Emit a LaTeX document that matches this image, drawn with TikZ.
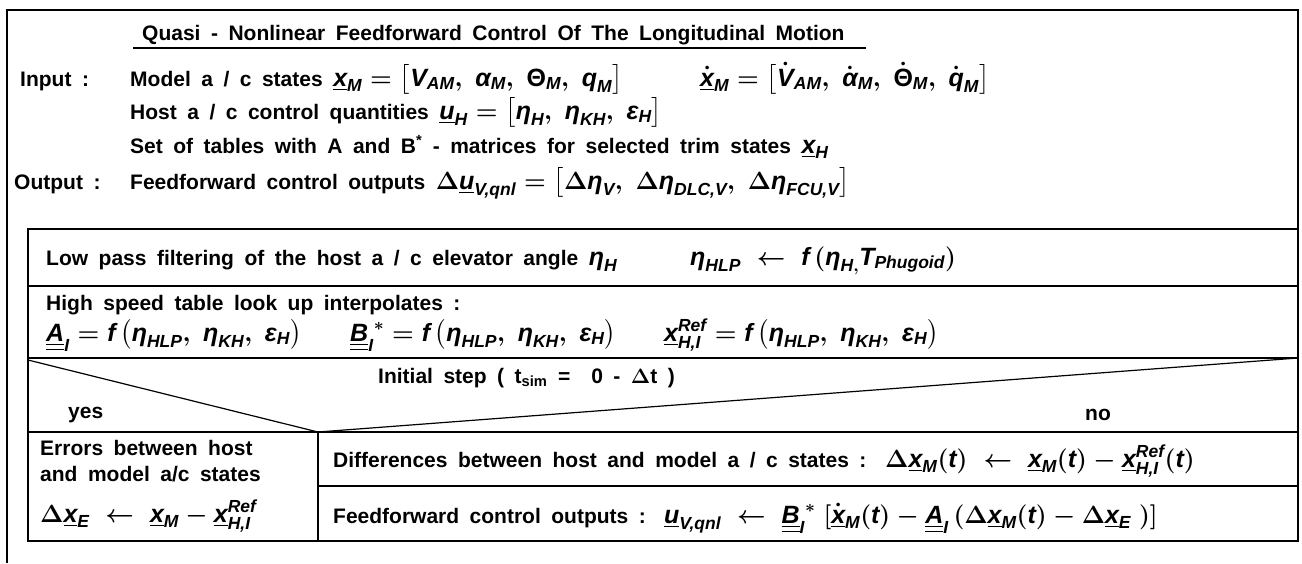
\documentclass[tikz,border=0pt]{standalone}
\usepackage{amsmath}
\usepackage{fontspec}
\setmainfont{Liberation Sans}
\usepackage{tikz}
\usetikzlibrary{positioning}

\newcommand{\vr}[1]{\text{\itshape #1}}
\newcommand{\vc}[1]{\underline{\vr{#1}}}
\newcommand{\mx}[1]{\underline{\underline{\vr{#1}}}}
\newcommand{\mth}[1]{{\fontsize{25}{29}\selectfont$#1$}}
\newcommand{\cm}{,\;}
\newcommand{\wsp}{\spaceskip=.5em plus .1em\relax}

\tikzset{
  txt/.style={anchor=base west,inner sep=0pt,
    font=\fontsize{21}{25}\selectfont\bfseries\boldmath\wsp},
  frame/.style={line width=1.2pt},
  grid/.style={line width=1.6pt},
}

\begin{document}
\begin{tikzpicture}[x=1pt,y=-1pt]
			\useasboundingbox (0,0) rectangle (1302,563);
			\draw[frame] (7,563) -- (7,10) -- (1298,10) -- (1298,229);
			
			\node[txt] (title) at (142,40) {Quasi - Nonlinear Feedforward Control Of The Longitudinal Motion};
			\draw[frame] (133,48) -- (866,48);
			
			\node[txt] (in) at (20,86) {Input :};
			\node[txt] (model) at (130,86) {Model a / c states \mth{\vc{x}_{\vr{M}} = \bigl[\vr{V}_{\vr{AM}}\cm\vr{α}_{\vr{M}}\cm\text{Θ}_{\vr{M}}\cm\vr{q}_{\vr{M}}\bigr]}};
			\node[txt] (modeldot) at (700,86) {\mth{\underline{\dot{\vr{x}}}_{\vr{M}} = \bigl[\dot{\vr{V}}_{\vr{AM}}\cm\dot{\vr{α}}_{\vr{M}}\cm\dot{\text{Θ}}_{\vr{M}}\cm\dot{\vr{q}}_{\vr{M}}\bigr]}};
			\node[txt] (host) at (130,119) {Host a / c control quantities \mth{\vc{u}_{\vr{H}} = \bigl[\vr{η}_{\vr{H}}\cm\vr{η}_{\vr{KH}}\cm\vr{ε}_{\vr{H}}\bigr]}};
			\node[txt] (tables) at (130,153) {Set of tables with A and B\textsuperscript{*} - matrices for selected trim states \mth{\vc{x}_{\vr{H}}}};
			\node[txt] (out) at (14,189) {Output :};
			\node[txt] (outputs) at (130,189) {Feedforward control outputs \mth{\Delta\vc{u}_{\vr{V,qnl}} = \bigl[\Delta\vr{η}_{\vr{V}}\cm\Delta\vr{η}_{\vr{DLC,V}}\cm\Delta\vr{η}_{\vr{FCU,V}}\bigr]}};
			
			\draw[grid] (28,229) rectangle (1298,541);
			\draw[grid] (28,286) -- (1298,286);
			\draw[grid] (28,358) -- (1298,358);
			\draw[grid] (28,432) -- (1298,432);
			\draw[grid] (318,432) -- (318,541);
			\draw[grid] (318,486) -- (1298,486);
			\draw[frame] (28,360) -- (318,432) -- (1298,358);
			
			\node[txt] (lowpass) at (46,265) {Low pass filtering of the host a / c elevator angle \mth{\vr{η}_{\vr{H}}}};
			\node[txt] (lowpasseq) at (690,265) {\mth{\vr{η}_{\vr{HLP}} \;\leftarrow\; \vr{f}\,(\vr{η}_{\vr{H},}\vr{T}_{\vr{Phugoid}})}};
			
			\node[txt] (highspeed) at (46,310) {High speed table look up interpolates :};
			\node[txt] (amat) at (46,341) {\mth{\mx{A}_{\vr{I}} = \vr{f}\,\bigl(\vr{η}_{\vr{HLP}}\cm\vr{η}_{\vr{KH}}\cm\vr{ε}_{\vr{H}}\bigr)}};
			\node[txt] (bmat) at (350,341) {\mth{\mx{B}_{\vr{I}}^{\;*} = \vr{f}\,\bigl(\vr{η}_{\vr{HLP}}\cm\vr{η}_{\vr{KH}}\cm\vr{ε}_{\vr{H}}\bigr)}};
			\node[txt] (xref) at (664,341) {\mth{\vc{x}_{\vr{H,I}}^{\vr{Ref}} = \vr{f}\,\bigl(\vr{η}_{\vr{HLP}}\cm\vr{η}_{\vr{KH}}\cm\vr{ε}_{\vr{H}}\bigr)}};
			
			\node[txt] (init) at (378,383) {Initial step ( t\textsubscript{sim} = \ 0 - $\Delta$t )};
			\node[txt] (yes) at (68,418) {yes};
			\node[txt] (no) at (1085,420) {no};
			
			\node[txt] (err1) at (40,455) {Errors between host};
			\node[txt] (err2) at (40,481) {and model a/c states};
			\node[txt] (erreq) at (40,522) {\mth{\Delta\vc{x}_{\vr{E}} \;\leftarrow\; \vc{x}_{\vr{M}} - \vc{x}_{\vr{H,I}}^{\vr{Ref}}}};
			
			\node[txt] (diff) at (333,467) {Differences between host and model a / c states :};
			\node[txt] (diffeq) at (885,467) {\mth{\Delta\vc{x}_{\vr{M}}(\vr{t}) \;\leftarrow\; \vc{x}_{\vr{M}}(\vr{t}) - \vc{x}_{\vr{H,I}}^{\vr{Ref}}(\vr{t})}};
			\node[txt] (ffout) at (333,523) {Feedforward control outputs :};
			\node[txt] (ffeq) at (664,523) {\mth{\vc{u}_{\vr{V,qnl}} \;\leftarrow\; \mx{B}_{\vr{I}}^{\;*}\;[\underline{\dot{\vr{x}}}_{\vr{M}}(\vr{t}) - \mx{A}_{\vr{I}}\,(\Delta\vc{x}_{\vr{M}}(\vr{t}) - \Delta\vc{x}_{\vr{E}}\;)]}};
		\end{tikzpicture}
\end{document}
